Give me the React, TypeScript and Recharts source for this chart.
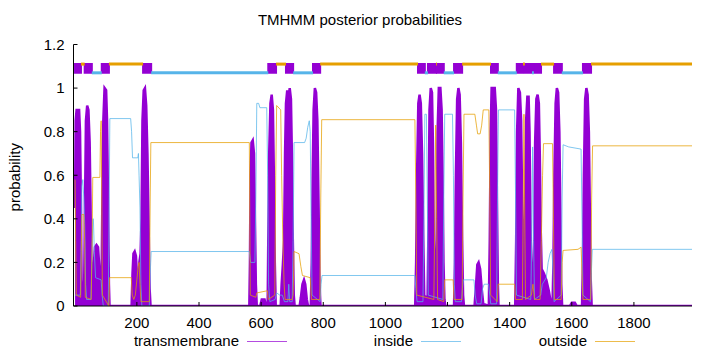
import React from "react";
import {
    ComposedChart,
    Area,
    Line,
    XAxis,
    YAxis,
    ReferenceArea,
    ReferenceLine,
} from "recharts";

const FONT = '"Liberation Sans", Arial, sans-serif';

const title = "TMHMM posterior probabilities";
const yLabel = "probability";
const seqRange: [number, number] = [-4, 1987];
const xTicks = [200, 400, 600, 800, 1000, 1200, 1400, 1600, 1800];
const yTicks = [0, 0.2, 0.4, 0.6, 0.8, 1, 1.2];

const TM_COLOR = "#9400d3";
const IN_COLOR = "#56b4e9";
const OUT_COLOR = "#e69f00";

// posterior probability per residue, [position, probability]
const transmembrane: [number, number][] = [
    [1, 0.45], [3, 0.85], [6, 0.9], [14, 0.9], [17, 0.8], [20, 0.45], [22, 0.12], [25, 0.04], [30, 0.05],
    [33, 0.45], [36, 0.85], [40, 0.92], [44, 0.9], [48, 0.75], [52, 0.35], [55, 0.08], [58, 0.05],
    [61, 0.18], [65, 0.27], [70, 0.28], [75, 0.27], [79, 0.18], [82, 0.06], [86, 0.05],
    [89, 0.5], [92, 0.85], [96, 1.0], [101, 0.99], [104, 0.85], [107, 0.5], [110, 0.1], [112, 0],
    [183, 0], [186, 0.15], [189, 0.24], [193, 0.25], [197, 0.23], [201, 0.12], [205, 0.08], [208, 0.2],
    [212, 0.24], [215, 0.4], [218, 0.85], [222, 0.99], [226, 1.0], [230, 0.92], [234, 0.7], [238, 0.35], [241, 0.08], [244, 0],
    [562, 0], [564, 0.2], [566, 0.6], [569, 0.75], [573, 0.76], [577, 0.7], [580, 0.4], [583, 0.1], [586, 0],
    [597, 0], [602, 0.03], [611, 0.03], [616, 0],
    [621, 0], [623, 0.3], [626, 0.7], [630, 0.93], [634, 0.97], [638, 0.9], [641, 0.6], [644, 0.2], [647, 0],
    [663, 0], [666, 0.1], [670, 0.19], [674, 0.3], [677, 0.7], [680, 0.93], [684, 0.99], [688, 0.95], [692, 1.0],
    [696, 0.95], [699, 0.7], [702, 0.3], [705, 0.05], [708, 0],
    [724, 0], [728, 0.04], [733, 0.1], [738, 0.12], [742, 0.1], [747, 0.03], [751, 0],
    [760, 0], [763, 0.2], [766, 0.6], [769, 0.9], [773, 1.0], [777, 0.98], [781, 0.85], [785, 0.45], [788, 0.1], [791, 0],
    [1096, 0], [1099, 0.2], [1102, 0.6], [1106, 0.93], [1110, 0.97], [1114, 0.93], [1118, 0.7], [1122, 0.3], [1125, 0.05], [1132, 0.03],
    [1136, 0.05], [1139, 0.4], [1142, 0.9], [1146, 1.0], [1150, 0.98], [1153, 0.75], [1156, 0.3], [1159, 0.05], [1162, 0.04],
    [1165, 0.3], [1168, 0.8], [1172, 1.0], [1177, 1.0], [1181, 0.9], [1184, 0.6], [1187, 0.2], [1190, 0.03], [1193, 0],
    [1221, 0], [1224, 0.2], [1227, 0.6], [1231, 0.95], [1235, 1.0], [1239, 0.97], [1243, 0.75], [1247, 0.3], [1250, 0.05], [1253, 0],
    [1287, 0], [1291, 0.08], [1296, 0.19], [1300, 0.2], [1305, 0.17], [1310, 0.08], [1315, 0.01],
    [1333, 0], [1336, 0.3], [1339, 0.8], [1342, 1.0], [1352, 1.0], [1356, 0.9], [1359, 0.5], [1362, 0.1], [1364, 0],
    [1418, 0], [1421, 0.3], [1424, 0.8], [1428, 1.0], [1433, 0.98], [1437, 0.85], [1440, 0.5], [1443, 0.15], [1446, 0.08],
    [1450, 0.5], [1453, 0.85], [1457, 0.96], [1461, 0.96], [1464, 0.8], [1467, 0.4], [1470, 0.1], [1474, 0.04],
    [1479, 0.3], [1482, 0.75], [1486, 0.95], [1490, 0.97], [1494, 0.93], [1497, 0.7], [1500, 0.35], [1503, 0.17],
    [1510, 0.15], [1518, 0.12], [1526, 0.07], [1532, 0.02], [1536, 0],
    [1538, 0], [1541, 0.2], [1544, 0.6], [1548, 0.93], [1552, 1.0], [1556, 0.98], [1560, 0.8], [1563, 0.45], [1566, 0.1], [1569, 0],
    [1594, 0], [1600, 0.015], [1610, 0.015], [1616, 0],
    [1633, 0], [1636, 0.2], [1639, 0.6], [1643, 0.95], [1647, 1.0], [1651, 0.97], [1655, 0.8], [1658, 0.45], [1661, 0.12], [1664, 0],
    [1987, 0],
];

const inside: [number, number][] = [
    [1, 0.05], [18, 0.05], [21, 0.3], [23, 0.55], [26, 0.58], [29, 0.5], [32, 0.38], [35, 0.1], [38, 0.03],
    [52, 0.03], [55, 0.2], [58, 0.4], [60, 0.4], [63, 0.25], [67, 0.13], [85, 0.12], [88, 0.05], [92, 0],
    [108, 0], [111, 0.5], [113, 0.86], [180, 0.86], [183, 0.8], [186, 0.68], [203, 0.68], [205, 0.7], [207, 0.6],
    [210, 0.45], [213, 0.1], [216, 0], [240, 0], [243, 0.15], [246, 0.25],
    [562, 0.25], [566, 0.2], [580, 0.2], [583, 0.5], [586, 0.93], [592, 0.93], [596, 0.91], [618, 0.91],
    [621, 0.6], [624, 0.1], [628, 0.02], [645, 0.03], [650, 0.06], [660, 0.05], [668, 0.05], [675, 0.02],
    [686, 0.02], [689, 0.1], [692, 0.02], [700, 0.02], [703, 0.3], [706, 0.75], [740, 0.75], [745, 0.77],
    [750, 0.82], [755, 0.85], [758, 0.8], [761, 0.4], [764, 0.05], [790, 0.02], [793, 0.1], [796, 0.14],
    [1095, 0.14], [1098, 0.08], [1102, 0.02], [1121, 0.02], [1124, 0.4], [1127, 0.88], [1132, 0.88], [1135, 0.5],
    [1138, 0.05], [1185, 0.03], [1188, 0.5], [1191, 0.88], [1216, 0.88], [1219, 0.6], [1222, 0.1], [1225, 0.02],
    [1245, 0.02], [1248, 0.08], [1251, 0.12], [1285, 0.12], [1289, 0.05], [1294, 0.01], [1308, 0.01], [1313, 0.08],
    [1318, 0.1], [1332, 0.1], [1336, 0.05], [1339, 0.01], [1358, 0.01], [1361, 0.5], [1364, 0.9], [1416, 0.9],
    [1419, 0.5], [1422, 0.05], [1468, 0.03], [1471, 0.3], [1474, 0.73], [1477, 0.3], [1480, 0.03],
    [1500, 0.05], [1505, 0.1], [1518, 0.13], [1524, 0.2], [1530, 0.24], [1536, 0.26], [1540, 0.15], [1543, 0.02],
    [1566, 0.05], [1569, 0.5], [1572, 0.74], [1590, 0.73], [1630, 0.72], [1633, 0.4], [1636, 0.05],
    [1660, 0.02], [1663, 0.15], [1666, 0.26], [1987, 0.26],
];

const outside: [number, number][] = [
    [1, 0.58], [3, 0.3], [5, 0.05], [19, 0.04], [21, 0.25], [23, 0.42], [29, 0.42], [32, 0.3], [34, 0.04],
    [53, 0.03], [56, 0.3], [58, 0.59], [81, 0.59], [83, 0.8], [85, 0.85], [87, 0.5], [89, 0.05], [110, 0],
    [112, 0.13], [182, 0.13], [185, 0.05], [190, 0.03], [195, 0.05], [200, 0.12], [204, 0.18], [207, 0.2],
    [210, 0.1], [213, 0.02], [240, 0.02], [243, 0.5], [245, 0.75],
    [562, 0.75], [565, 0.05], [583, 0.04], [586, 0.06], [620, 0.07], [623, 0.03], [644, 0.05], [647, 0.6],
    [650, 0.92], [663, 0.9], [666, 0.6], [670, 0.3], [674, 0.1], [677, 0.03], [700, 0.03], [703, 0.05],
    [706, 0.25], [722, 0.24], [728, 0.18], [733, 0.14], [758, 0.13], [762, 0.03], [789, 0.03], [792, 0.5],
    [795, 0.855], [1095, 0.855], [1098, 0.5], [1101, 0.05], [1156, 0.03], [1159, 0.4], [1162, 0.83],
    [1165, 0.4], [1168, 0.03], [1188, 0.02], [1191, 0.12], [1218, 0.12], [1221, 0.03], [1247, 0.03],
    [1250, 0.5], [1253, 0.88], [1288, 0.88], [1293, 0.83], [1297, 0.79], [1305, 0.79], [1310, 0.83],
    [1315, 0.9], [1333, 0.9], [1336, 0.5], [1339, 0.05], [1360, 0.02], [1363, 0.1], [1416, 0.1], [1419, 0.03],
    [1441, 0.03], [1444, 0.5], [1446, 0.88], [1448, 0.5], [1451, 0.03], [1470, 0.05], [1475, 0.1], [1480, 0.03],
    [1498, 0.03], [1502, 0.3], [1506, 0.6], [1509, 0.745], [1538, 0.745], [1541, 0.4], [1544, 0.03],
    [1566, 0.03], [1569, 0.2], [1572, 0.255], [1620, 0.26], [1630, 0.27], [1633, 0.15], [1636, 0.03],
    [1661, 0.03], [1664, 0.5], [1667, 0.735], [1987, 0.735],
];

// predicted topology (the band along the top)
const tmSegments: [number, number][] = [
    [1, 20], [32, 55], [87, 110], [220, 246], [623, 648], [680, 703], [767, 790], [1105, 1127],
    [1137, 1163], [1166, 1188], [1221, 1247], [1340, 1362], [1423, 1443], [1449, 1472], [1478, 1501],
    [1543, 1568], [1636, 1662],
];
const insideSegments: [number, number][] = [
    [55, 87], [246, 623], [703, 767], [1127, 1137], [1188, 1221], [1362, 1423], [1472, 1478], [1568, 1636],
];
const outsideSegments: [number, number][] = [
    [20, 32], [110, 220], [648, 680], [790, 1105], [1163, 1166], [1247, 1340], [1443, 1449], [1501, 1543],
    [1662, 1987],
];
const bandLow = 1.07;
const bandHigh = 1.11;

const legendItems = [
    { name: "transmembrane", color: TM_COLOR },
    { name: "inside", color: IN_COLOR },
    { name: "outside", color: OUT_COLOR },
];

const toRows = (pairs: [number, number][]) => pairs.map(([pos, p]) => ({ pos, p }));

const tickStyle = { fill: "#000", fontSize: 15, fontFamily: FONT };
const noLabel = () => <g />;

function YLabel({ viewBox }: any) {
    const cx = viewBox.x + 14;
    const cy = viewBox.y + viewBox.height / 2 + 2;
    return (
        <text
            x={cx}
            y={cy}
            transform={`rotate(-90 ${cx} ${cy})`}
            textAnchor="middle"
            dominantBaseline="central"
            fontSize={15}
            fontFamily={FONT}
            fill="#000"
        >
            {yLabel}
        </text>
    );
}

export default function App() {
    return (
        <div style={{ position: "absolute", left: 0, top: 0, width: 720, height: 352, background: "#fff", fontFamily: FONT }}>
            <div style={{ position: "absolute", top: 12, left: 0, width: 720, textAlign: "center", fontSize: 15, lineHeight: "15px" }}>
                {title}
            </div>
            <ComposedChart
                width={720}
                height={352}
                margin={{ top: 44.5, right: 28, bottom: 0, left: 0 }}
                style={{ fontFamily: FONT }}
            >
                <XAxis
                    xAxisId="b"
                    dataKey="pos"
                    type="number"
                    domain={seqRange}
                    allowDataOverflow
                    ticks={xTicks}
                    interval={0}
                    orientation="bottom"
                    height={46}
                    tickSize={-4}
                    tickMargin={15}
                    stroke="#000"
                    tick={tickStyle}
                />
                <XAxis
                    xAxisId="t"
                    type="number"
                    domain={seqRange}
                    allowDataOverflow
                    ticks={xTicks}
                    interval={0}
                    orientation="top"
                    height={0}
                    tickSize={-4}
                    stroke="#000"
                    tick={noLabel}
                />
                <YAxis
                    yAxisId="l"
                    type="number"
                    domain={[0, 1.2]}
                    allowDataOverflow
                    ticks={yTicks}
                    interval={0}
                    width={73.5}
                    tickSize={-4}
                    tickMargin={13}
                    stroke="#000"
                    tick={tickStyle}
                    label={YLabel}
                />
                <YAxis
                    yAxisId="r"
                    orientation="right"
                    type="number"
                    domain={[0, 1.2]}
                    allowDataOverflow
                    ticks={yTicks}
                    interval={0}
                    width={0}
                    tickSize={-4}
                    stroke="#000"
                    tick={noLabel}
                />
                <Area
                    xAxisId="b"
                    yAxisId="l"
                    data={toRows(transmembrane)}
                    dataKey="p"
                    type="linear"
                    stroke={TM_COLOR}
                    strokeWidth={2.5}
                    fill={TM_COLOR}
                    fillOpacity={1}
                    dot={false}
                    activeDot={false}
                    isAnimationActive={false}
                />
                <Line
                    xAxisId="b"
                    yAxisId="l"
                    data={toRows(inside)}
                    dataKey="p"
                    type="linear"
                    stroke={IN_COLOR}
                    strokeWidth={1}
                    strokeOpacity={0.75}
                    dot={false}
                    activeDot={false}
                    isAnimationActive={false}
                />
                <Line
                    xAxisId="b"
                    yAxisId="l"
                    data={toRows(outside)}
                    dataKey="p"
                    type="linear"
                    stroke={OUT_COLOR}
                    strokeWidth={1}
                    strokeOpacity={0.75}
                    dot={false}
                    activeDot={false}
                    isAnimationActive={false}
                />
                {insideSegments.map(([a, b], i) => (
                    <ReferenceLine
                        key={`in${i}`}
                        xAxisId="b"
                        yAxisId="l"
                        segment={[{ x: a, y: bandLow }, { x: b, y: bandLow }]}
                        stroke={IN_COLOR}
                        strokeWidth={3}
                    />
                ))}
                {outsideSegments.map(([a, b], i) => (
                    <ReferenceLine
                        key={`out${i}`}
                        xAxisId="b"
                        yAxisId="l"
                        segment={[{ x: a, y: bandHigh }, { x: b, y: bandHigh }]}
                        stroke={OUT_COLOR}
                        strokeWidth={3}
                    />
                ))}
                {tmSegments.map(([a, b], i) => (
                    <ReferenceArea
                        key={`tm${i}`}
                        xAxisId="b"
                        yAxisId="l"
                        x1={a}
                        x2={b}
                        y1={bandLow}
                        y2={bandHigh}
                        fill={TM_COLOR}
                        fillOpacity={1}
                        stroke={TM_COLOR}
                        strokeWidth={2}
                        ifOverflow="visible"
                    />
                ))}
            </ComposedChart>
            {legendItems.map((item, i) => (
                <React.Fragment key={item.name}>
                    <div
                        style={{
                            position: "absolute",
                            top: 333,
                            left: 89 + i * 174,
                            width: 150,
                            textAlign: "right",
                            fontSize: 15,
                            lineHeight: "15px",
                        }}
                    >
                        {item.name}
                    </div>
                    <div
                        style={{
                            position: "absolute",
                            top: 341,
                            left: 247 + i * 174,
                            width: 40,
                            height: 1,
                            background: item.color,
                            opacity: 0.7,
                        }}
                    />
                </React.Fragment>
            ))}
        </div>
    );
}
